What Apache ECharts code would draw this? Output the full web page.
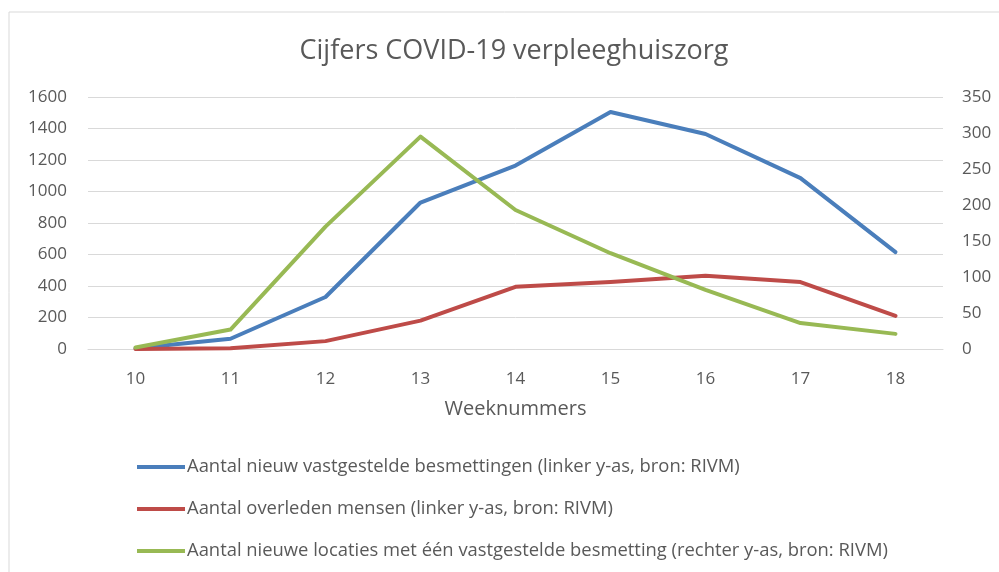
<!DOCTYPE html>
<html>
<head>
<meta charset="utf-8">
<script src="https://cdn.jsdelivr.net/npm/echarts@6/dist/echarts.min.js"></script>
<style>
  html, body { margin: 0; padding: 0; background: #fff; }
  #chart { width: 999px; height: 572px; }
</style>
</head>
<body>
<div id="chart"></div>
<script>
// weken en waarden
const weeks = ['10', '11', '12', '13', '14', '15', '16', '17', '18']
const besmettingen = [5, 65, 330, 930, 1165, 1505, 1365, 1085, 615]
const overleden = [0, 5, 50, 180, 395, 425, 465, 425, 210]
const locaties = [2, 27, 170, 295, 193, 133, 82, 36, 21]

const seriesNames = [
  'Aantal nieuw vastgestelde besmettingen (linker y-as, bron: RIVM)',
  'Aantal overleden mensen (linker y-as, bron: RIVM)',
  'Aantal nieuwe locaties met één vastgestelde besmetting (rechter y-as, bron: RIVM)'
]
const colors = ['#4a7ebb', '#be4b48', '#98b954']

const txt = '#595959'
const font = 'Open Sans'

const chart = echarts.init(document.getElementById('chart'))

function lineSeries(idx, data, yAxisIndex) {
  return {
    name: seriesNames[idx],
    type: 'line',
    yAxisIndex: yAxisIndex,
    data: data,
    symbol: 'none',
    lineStyle: { width: 4, color: colors[idx], cap: 'round', join: 'round' },
    itemStyle: { color: colors[idx] }
  }
}

const plain = v => String(v)

chart.setOption({
  animation: false,
  color: colors,
  graphic: [{
    type: 'rect',
    shape: { x: 9, y: 12, width: 1100, height: 700 },
    style: { fill: 'none', stroke: '#d9d9d9', lineWidth: 1 },
    silent: true
  }],
  title: {
    text: 'Cijfers COVID-19 verpleeghuiszorg',
    left: 509,
    textAlign: 'center',
    top: 33,
    textStyle: { fontFamily: font, fontSize: 27, fontWeight: 'normal', color: txt }
  },
  grid: { left: 88, right: 56, top: 97, bottom: 223 },
  legend: {
    orient: 'vertical',
    left: 137,
    top: 458,
    padding: 0,
    itemWidth: 48,
    itemHeight: 4,
    itemGap: 24,
    icon: 'rect',
    textStyle: { fontFamily: font, fontSize: 18.4, color: txt, padding: [0, 0, 0, -3] },
    data: seriesNames
  },
  xAxis: {
    type: 'category',
    data: weeks,
    boundaryGap: true,
    name: 'Weeknummers',
    nameLocation: 'middle',
    nameGap: 50,
    nameTextStyle: { fontFamily: font, fontSize: 20, color: txt },
    axisLine: { lineStyle: { color: '#d9d9d9', width: 1 } },
    axisTick: { show: false },
    axisLabel: { fontFamily: font, fontSize: 17, color: txt, margin: 22 }
  },
  yAxis: [{
    type: 'value',
    min: 0, max: 1600, interval: 200,
    axisLine: { show: false },
    axisTick: { show: false },
    axisLabel: { fontFamily: font, fontSize: 17, color: txt, margin: 21, formatter: plain },
    splitLine: { lineStyle: { color: '#d9d9d9', width: 1 } }
  }, {
    type: 'value',
    min: 0, max: 350, interval: 50,
    position: 'right',
    axisLine: { show: false },
    axisTick: { show: false },
    axisLabel: { fontFamily: font, fontSize: 17, color: txt, margin: 19, formatter: plain },
    splitLine: { show: false }
  }],
  series: [
    lineSeries(0, besmettingen, 0),
    lineSeries(1, overleden, 0),
    lineSeries(2, locaties, 1)
  ]
})
</script>
</body>
</html>
